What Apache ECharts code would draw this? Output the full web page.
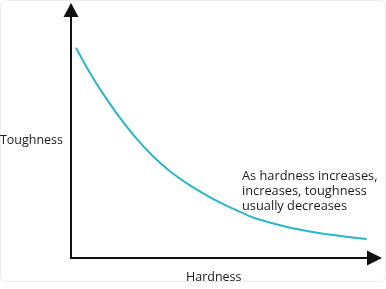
<!DOCTYPE html>
<html>
<head>
<meta charset="utf-8">
<script src="https://cdn.jsdelivr.net/npm/echarts@6/dist/echarts.min.js"></script>
<style>html,body{margin:0;padding:0;background:#fff;}#c{width:386px;height:289px;}</style>
</head>
<body>
<div id="c"></div>
<script>
var hardness = [0.165, 0.63, 1.06, 1.61, 2.16, 2.71, 3.26, 3.92, 4.47, 5.02, 5.57, 6.12, 7.22, 8.31, 9.74];
var toughness = [8.48, 7.45, 6.62, 5.66, 4.81, 4.09, 3.50, 2.93, 2.53, 2.17, 1.86, 1.58, 1.22, 0.98, 0.77];
var xName = 'Hardness';
var yName = 'Toughness';
var note = 'As hardness increases,\nincreases, toughness\nusually decreases';

var chart = echarts.init(document.getElementById('c'), null, {renderer: 'canvas'});
var font = '"Open Sans", "Noto Sans", sans-serif';
var pts = hardness.map(function (h, i) { return [h, toughness[i]]; });
chart.setOption({
  animation: false,
  backgroundColor: '#fff',
  grid: {left: 71, right: 11.5, top: 10, bottom: 31, containLabel: false, outerBoundsMode: 'none'},
  xAxis: {
    type: 'value', min: 0, max: 10,
    name: xName, nameLocation: 'middle', nameGap: 13,
    nameTextStyle: {color: '#1a1a1a', fontSize: 12.5, fontFamily: font, padding: [0, 18, 0, 0]},
    axisLine: {show: true, symbol: ['none', 'triangle'], symbolSize: [15, 15], lineStyle: {color: '#111', width: 2}},
    axisTick: {show: false}, axisLabel: {show: false}, splitLine: {show: false}
  },
  yAxis: {
    type: 'value', min: 0, max: 10,
    name: yName, nameLocation: 'middle', nameGap: 8, nameRotate: 0,
    nameTextStyle: {color: '#1a1a1a', fontSize: 12.5, fontFamily: font, verticalAlign: 'top'},
    axisLine: {show: true, symbol: ['none', 'triangle'], symbolSize: [15, 14], lineStyle: {color: '#111', width: 2}},
    axisTick: {show: false}, axisLabel: {show: false}, splitLine: {show: false}
  },
  graphic: [
    {type: 'rect', shape: {x: 0.5, y: 0.5, width: 385, height: 281, r: 6}, style: {fill: 'none', stroke: '#ececec', lineWidth: 1}, z: -10},
    {type: 'text', left: 242, top: 169, style: {text: note, fill: '#1a1a1a', font: '12.8px ' + font, lineHeight: 15}}
  ],
  series: [{
    type: 'line', data: pts, smooth: 0.3, showSymbol: false,
    lineStyle: {color: '#2ab8c8', width: 2}
  }]
});
</script>
</body>
</html>
